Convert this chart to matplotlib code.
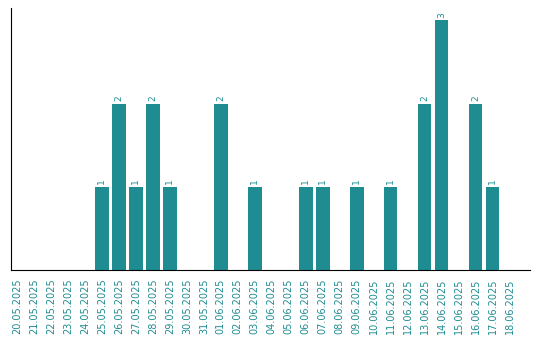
import matplotlib
matplotlib.use('Agg')
import matplotlib.pyplot as plt

dates = ['20.05.2025', '21.05.2025', '22.05.2025', '23.05.2025', '24.05.2025',
         '25.05.2025', '26.05.2025', '27.05.2025', '28.05.2025', '29.05.2025',
         '30.05.2025', '31.05.2025', '01.06.2025', '02.06.2025', '03.06.2025',
         '04.06.2025', '05.06.2025', '06.06.2025', '07.06.2025', '08.06.2025',
         '09.06.2025', '10.06.2025', '11.06.2025', '12.06.2025', '13.06.2025',
         '14.06.2025', '15.06.2025', '16.06.2025', '17.06.2025', '18.06.2025']
counts = [0, 0, 0, 0, 0,
          1, 2, 1, 2, 1,
          0, 0, 2, 0, 1,
          0, 0, 1, 1, 0,
          1, 0, 1, 0, 2,
          3, 0, 2, 1, 0]

TEAL = '#1f8c91'

fig = plt.figure(figsize=(5.4, 3.4), dpi=100)
ax = fig.add_axes([11/540, 70/340, 519/540, 262/340])

x = range(len(dates))
bars = ax.bar(x, counts, width=0.8, color=TEAL)
for xi, c in zip(x, counts):
    if c > 0:
        ax.text(xi, c + 0.03, str(c), rotation=90, ha='center', va='bottom',
                fontsize=6.5, color=TEAL)

ax.set_xlim(-0.35, 30.2)
ax.set_ylim(0, 3.15)
ax.set_xticks(list(x))
ax.set_xticklabels(dates, rotation=90, fontsize=7, color=TEAL)
ax.tick_params(axis='x', length=0, pad=6)
ax.set_yticks([])
ax.spines['top'].set_visible(False)
ax.spines['right'].set_visible(False)

fig.savefig('out.png', dpi=100)
